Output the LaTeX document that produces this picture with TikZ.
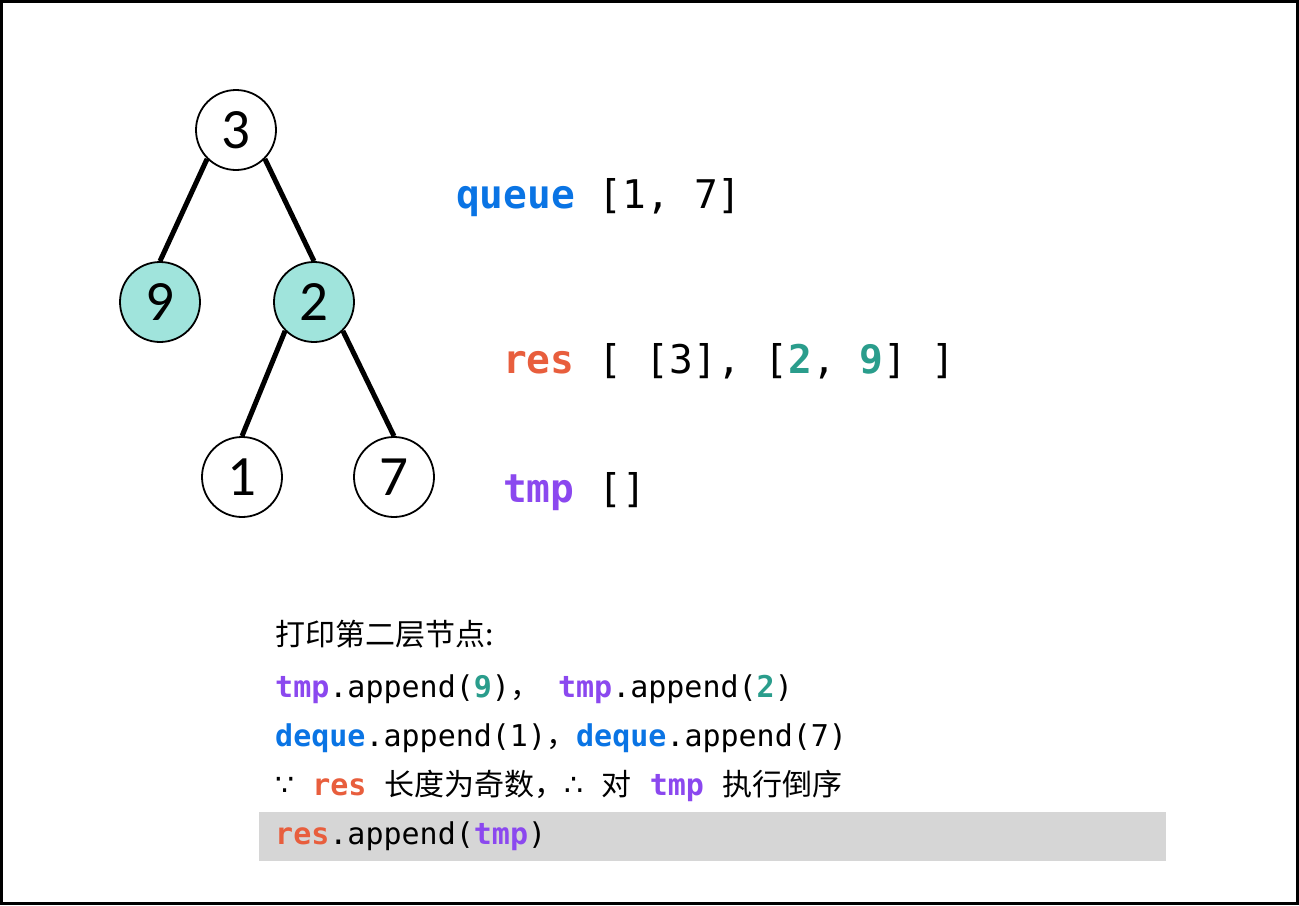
\documentclass[tikz,border=0pt]{standalone}
\usepackage{fontspec}
\setmonofont{DejaVu Sans Mono}
\newfontfamily\cjk{Noto Sans CJK SC}
\newfontfamily\treefont{Carlito}
\newfontfamily\symfont{DejaVu Sans}

\definecolor{qblue}{HTML}{0A74E4}
\definecolor{rred}{HTML}{E85E3D}
\definecolor{tpurple}{HTML}{8B48EF}
\definecolor{nteal}{HTML}{2A9D8C}
\definecolor{lvlfill}{HTML}{A0E4DC}
\definecolor{hlgray}{HTML}{D6D6D6}

\newcommand{\qkw}[1]{\textbf{\color{qblue}#1}}
\newcommand{\rkw}[1]{\textbf{\color{rred}#1}}
\newcommand{\tkw}[1]{\textbf{\color{tpurple}#1}}
\newcommand{\nkw}[1]{\textbf{\color{nteal}#1}}

\begin{document}
\begin{tikzpicture}[x=1bp,y=-1bp,
  treenode/.style={circle,draw,line width=1.8bp,fill=white,minimum size=80bp,inner sep=0,
    font=\treefont\fontsize{57bp}{60bp}\selectfont},
  visited/.style={treenode,fill=lvlfill},
  edge/.style={line width=5bp},
  bigcode/.style={anchor=base west,inner sep=0,font=\ttfamily\fontsize{39.5bp}{44bp}\selectfont},
  code/.style={anchor=base west,inner sep=0,font=\ttfamily\fontsize{30bp}{36bp}\selectfont}]

\useasboundingbox (0,0) rectangle (1299,905);

% Frame
\draw[line width=3bp] (1.5,1.5) rectangle (1297.5,903.5);

% Tree nodes
\node[treenode] (n3) at (236,130) {3};
\node[visited]  (n9) at (160,302) {9};
\node[visited]  (n2) at (314,302) {2};
\node[treenode] (n1) at (242,477) {1};
\node[treenode] (n7) at (394,477) {7};

% Edges
\draw[edge] (n3.south west) -- (n9.north);
\draw[edge] (n3.south east) -- (n2.north);
\draw[edge] (n2.south west) -- (n1.north);
\draw[edge] (n2.south east) -- (n7.north);

% State of the lists
\node[bigcode] (queue) at (456,208) {\qkw{queue} [1, 7]};
\node[bigcode] (res)   at (503,373) {\rkw{res} [ [3], [\nkw{2}, \nkw{9}] ]};
\node[bigcode] (tmp)   at (503,502) {\tkw{tmp} []};

% Highlight of the current step
\fill[hlgray] (259,812) rectangle (1166,861);

% Steps
\node[code] (step0) at (275,645) {\cjk 打印第二层节点:};
\node[code] (step1) at (275,697) {\tkw{tmp}.append(\nkw{9}){\cjk ，} \tkw{tmp}.append(\nkw{2})};
\node[code] (step2) at (275,746) {\qkw{deque}.append(1){\cjk ，}\qkw{deque}.append(7)};
\node[code] (step3) at (275,795) {{\symfont ∵} \rkw{res} {\cjk 长度为奇数，}{\symfont ∴} {\cjk 对} \tkw{tmp} {\cjk 执行倒序}};
\node[code] (step4) at (275,844) {\rkw{res}.append(\tkw{tmp})};

\end{tikzpicture}
\end{document}
